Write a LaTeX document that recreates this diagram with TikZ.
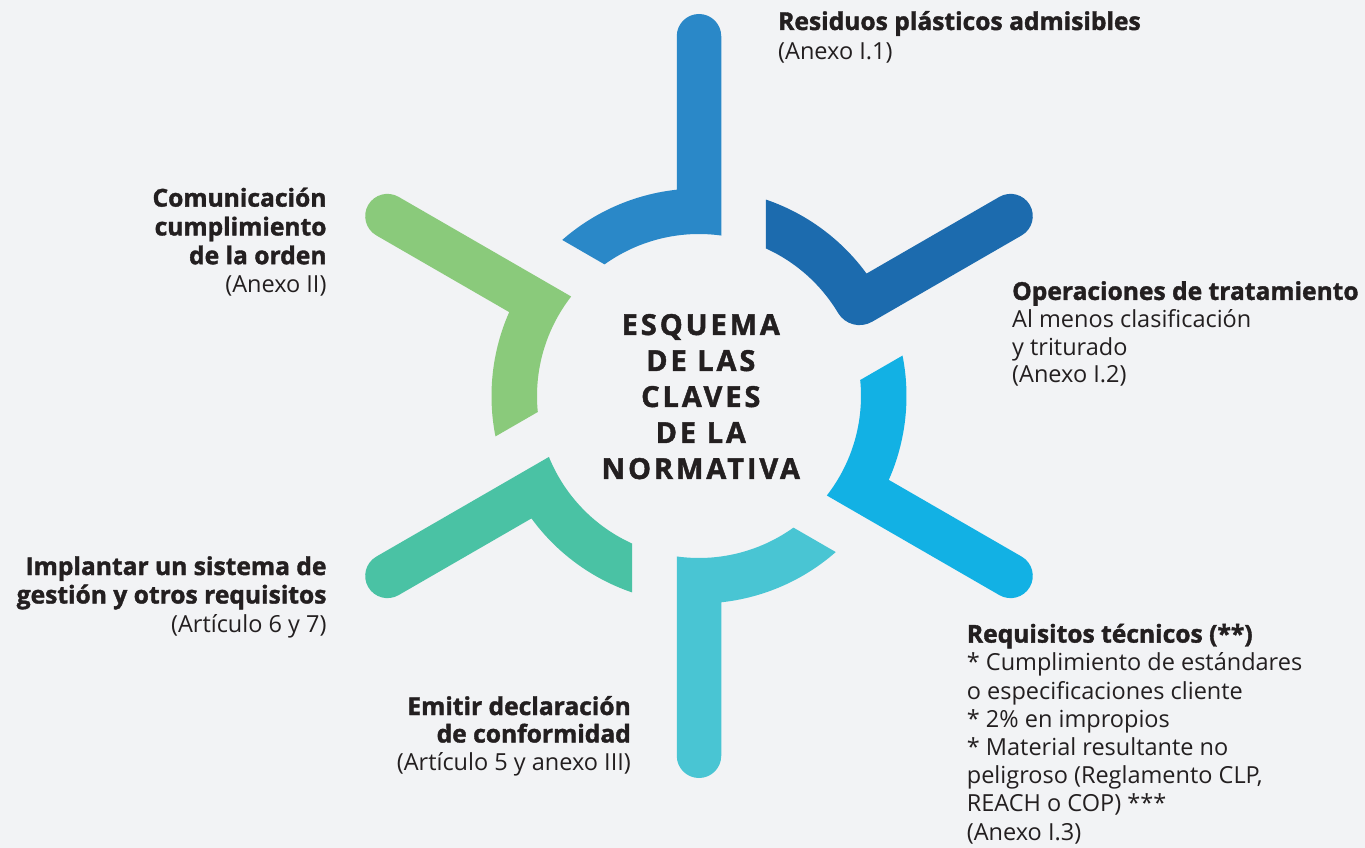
\documentclass[tikz,border=0pt]{standalone}
\usepackage{fontspec}
\setmainfont{Open Sans}[BoldFeatures={FakeBold=1.5}]
\newfontfamily\titlefont{Open Sans}[LetterSpace=10,BoldFeatures={FakeBold=1.5}]
\newcommand\hb[1]{{\fontsize{24.6}{28}\selectfont\bfseries #1}}
\definecolor{bg}{HTML}{F2F3F5}
\definecolor{txt}{HTML}{231F20}
\definecolor{armA}{HTML}{2A88C8}
\definecolor{armB}{HTML}{1C6BAE}
\definecolor{armC}{HTML}{12B1E4}
\definecolor{armD}{HTML}{49C5D3}
\definecolor{armE}{HTML}{4AC2A4}
\definecolor{armF}{HTML}{8ACA7B}
\tikzset{
  lbl/.style={font=\fontsize{23.5}{28.2}\selectfont, text=txt, inner sep=0pt},
  ttl/.style={font=\titlefont\bfseries\fontsize{29}{36}\selectfont, text=txt, inner sep=0pt, align=center}
}
\begin{document}
\begin{tikzpicture}[x=1pt,y=1pt]
\useasboundingbox (-699,-452) rectangle (666,396);
\fill[bg] (-699,-452) rectangle (666,396);
% arms: spoke along local +x, arc on counter-clockwise side
\begin{scope}[rotate=90]
\fill[armA] (160.46,-22.25) -- (359.75,-22.25) arc[start angle=-90,end angle=90,radius=22.25] -- (206.30,22.25) arc[start angle=6.156,end angle=41.23,radius=207.5] -- (131.61,94.45) arc[start angle=35.66,end angle=-7.894,radius=162] -- cycle;
\end{scope}
\begin{scope}[rotate=30]
\fill[armB] (186.98,-22.25) -- (359.75,-22.25) arc[start angle=-90,end angle=90,radius=22.25] -- (206.30,22.25) arc[start angle=6.156,end angle=41.23,radius=207.5] -- (131.61,94.45) arc[start angle=35.66,end angle=0.843,radius=162] arc[start angle=180.843,end angle=270,radius=25] -- cycle;
\end{scope}
\begin{scope}[rotate=-30]
\fill[armC] (160.46,-22.25) -- (359.75,-22.25) arc[start angle=-90,end angle=90,radius=22.25] -- (206.30,22.25) arc[start angle=6.156,end angle=41.23,radius=207.5] -- (131.61,94.45) arc[start angle=35.66,end angle=-7.894,radius=162] -- cycle;
\end{scope}
\begin{scope}[rotate=-90]
\fill[armD] (160.46,-22.25) -- (359.75,-22.25) arc[start angle=-90,end angle=90,radius=22.25] -- (206.30,22.25) arc[start angle=6.156,end angle=41.23,radius=207.5] -- (131.61,94.45) arc[start angle=35.66,end angle=-7.894,radius=162] -- cycle;
\end{scope}
\begin{scope}[rotate=-150]
\fill[armE] (160.46,-22.25) -- (359.75,-22.25) arc[start angle=-90,end angle=90,radius=22.25] -- (206.30,22.25) arc[start angle=6.156,end angle=41.23,radius=207.5] -- (131.61,94.45) arc[start angle=35.66,end angle=-7.894,radius=162] -- cycle;
\end{scope}
\begin{scope}[rotate=150]
\fill[armF] (160.46,-22.25) -- (359.75,-22.25) arc[start angle=-90,end angle=90,radius=22.25] -- (206.30,22.25) arc[start angle=6.156,end angle=41.23,radius=207.5] -- (131.61,94.45) arc[start angle=35.66,end angle=-7.894,radius=162] -- cycle;
\end{scope}
% centre title (anchor base = baseline of last line)
\node[ttl, anchor=base] (title) at (1.8,-83) {ESQUEMA\\DE LAS\\CLAVES\\DE LA\\NORMATIVA};
% labels (anchor base = baseline of last line)
\node[lbl, anchor=base west, align=left, font=\fontsize{23.5}{30}\selectfont] (t1) at (79,336)
  {\hb{Residuos plásticos admisibles}\\(Anexo I.1)};
\node[lbl, anchor=base west, align=left, font=\fontsize{23.5}{27.7}\selectfont] (t2) at (313,13)
  {\hb{Operaciones de tratamiento}\\Al menos clasificación\\y triturado\\(Anexo I.2)};
\node[lbl, anchor=base west, align=left] (t3) at (267.7,-444)
  {\hb{Requisitos técnicos (**)}\\* Cumplimiento de estándares\\o especificaciones cliente\\* 2\% en impropios\\* Material resultante no\\peligroso (Reglamento CLP,\\REACH o COP) ***\\(Anexo I.3)};
\node[lbl, anchor=base east, align=right, font=\fontsize{23.5}{27.5}\selectfont] (t4) at (-68,-374)
  {\hb{Emitir declaración}\\\hb{de conformidad}\\(Artículo 5 y anexo III)};
\node[lbl, anchor=base east, align=right, font=\fontsize{23.5}{28.8}\selectfont] (t5) at (-372.3,103)
  {\hb{Comunicación}\\\hb{cumplimiento}\\\hb{de la orden}\\(Anexo II)};
\node[lbl, anchor=base east, align=right, font=\fontsize{23.5}{28.5}\selectfont] (t6) at (-372.3,-236)
  {\hb{Implantar un sistema de}\\\hb{gestión y otros requisitos}\\(Artículo 6 y 7)};
\end{tikzpicture}
\end{document}
